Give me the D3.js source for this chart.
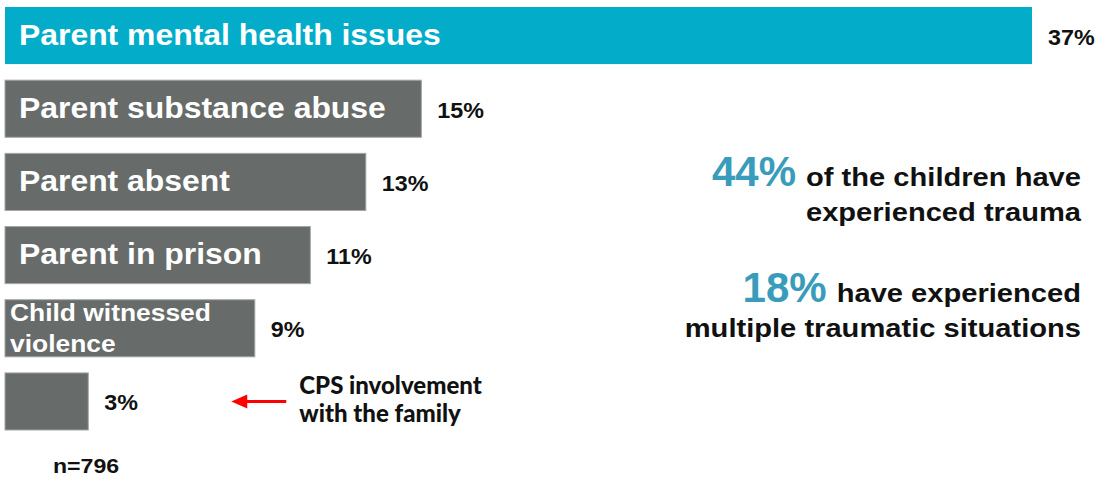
<!DOCTYPE html>
<html>
<head>
<meta charset="utf-8">
<script src="https://cdn.jsdelivr.net/npm/d3@7"></script>
<style>
  html, body { margin: 0; padding: 0; background: #ffffff; }
  svg { display: block; }
  text { font-family: "Liberation Sans", Arial, sans-serif; font-weight: bold; }
</style>
</head>
<body>
<svg id="chart" width="1100" height="477"></svg>
<script>
// Reasons reported, share of children (%)
const categories = [
  "Parent mental health issues",
  "Parent substance abuse",
  "Parent absent",
  "Parent in prison",
  "Child witnessed violence",
  "CPS involvement with the family"
];
const values = [37, 15, 13, 11, 9, 3];
// Text printed inside each bar, one entry per line (the last bar is labelled by a callout)
const barLabelLines = [
  ["Parent mental health issues"],
  ["Parent substance abuse"],
  ["Parent absent"],
  ["Parent in prison"],
  ["Child witnessed", "violence"],
  []
];
const calloutLines = ["CPS involvement", "with the family"];
const sampleLabel = "n=796";
const summary = [
  { pct: "44%", lines: ["of the children have", "experienced trauma"] },
  { pct: "18%", lines: ["have experienced", "multiple traumatic situations"] }
];

const TEAL_BAR = "#03adc9";
const GRAY_BAR = "#676b69";
const TEAL_TEXT = "#3a9cbb";
const STRETCH = 1.1;

const svg = d3.select("#chart");

const x = d3.scaleLinear().domain([0, 37]).range([5, 1032]);
const y = d3.scaleBand().domain(categories).range([7, 430]).paddingInner(0.22).paddingOuter(0);

// horizontally widened text, anchored at (px, py)
function wideText(parent, px, py, str, size, anchor, sx) {
  const g = parent.append("g").attr("transform", `translate(${px},${py}) scale(${sx},1)`);
  const t = g.append("text")
    .attr("text-anchor", anchor || "start")
    .style("font-size", size + "px")
    .text(str);
  return t;
}

const rows = categories.map((c, i) => ({ cat: c, value: values[i], lines: barLabelLines[i], i }));

// bars
svg.append("g").selectAll("rect")
  .data(rows)
  .join("rect")
  .attr("x", x(0))
  .attr("y", d => y(d.cat))
  .attr("width", d => x(d.value) - x(0))
  .attr("height", y.bandwidth())
  .attr("fill", d => d.i === 0 ? TEAL_BAR : GRAY_BAR)
  .attr("stroke", d => d.i === 0 ? "none" : "#a3a6a4")
  .attr("stroke-width", 1);

// labels inside bars
const labelLayer = svg.append("g").attr("fill", "#ffffff");
rows.forEach(d => {
  const cy = y(d.cat) + y.bandwidth() / 2;
  if (d.lines.length === 1) {
    wideText(labelLayer, x(0) + 14, cy + 9, d.lines[0], 29, "start", STRETCH).attr("fill", "#ffffff");
  } else if (d.lines.length === 2) {
    wideText(labelLayer, x(0) + 5, cy - 7, d.lines[0], 24, "start", STRETCH).attr("fill", "#ffffff");
    wideText(labelLayer, x(0) + 5, cy + 24, d.lines[1], 24, "start", STRETCH).attr("fill", "#ffffff");
  }
});

// value labels
const valueLayer = svg.append("g");
rows.forEach(d => {
  const cy = y(d.cat) + y.bandwidth() / 2;
  wideText(valueLayer, x(d.value) + 16, cy + 9, d.value + "%", 22, "start", 1.06).attr("fill", "#111111");
});

// callout for the last bar
const last = rows[rows.length - 1];
const lastCy = y(last.cat) + y.bandwidth() / 2;
const arrowY = lastCy;
const arrowTip = x(last.value) + 143;
const arrowTail = arrowTip + 55;
svg.append("line")
  .attr("x1", arrowTail).attr("y1", arrowY)
  .attr("x2", arrowTip + 12).attr("y2", arrowY)
  .attr("stroke", "#ff0000").attr("stroke-width", 3);
svg.append("path")
  .attr("d", d3.line()([[arrowTip, arrowY], [arrowTip + 16, arrowY - 7], [arrowTip + 16, arrowY + 7]]) + "Z")
  .attr("fill", "#ff0000");

const callout = svg.append("text")
  .attr("x", arrowTail + 13)
  .attr("y", lastCy - 7)
  .style("font-family", "Lato, 'Open Sans', sans-serif")
  .style("font-weight", "900")
  .style("font-size", "24px")
  .attr("fill", "#111111");
callout.selectAll("tspan")
  .data(calloutLines)
  .join("tspan")
  .attr("x", arrowTail + 13)
  .attr("dy", (d, i) => i === 0 ? 0 : 28)
  .text(d => d);

// sample size
wideText(svg, 53, 473, sampleLabel, 21, "start", STRETCH).attr("fill", "#111111");

// summary statements, right aligned
const rightEdge = 1081;
const summaryTop = [186, 302];
summary.forEach((s, k) => {
  const base = summaryTop[k];
  const first = wideText(svg, rightEdge, base, s.lines[0], 26, "end", 1.12).attr("fill", "#111111");
  const w = first.node().getComputedTextLength() * 1.12;
  svg.append("text")
    .attr("x", rightEdge - w - 10)
    .attr("y", base)
    .attr("text-anchor", "end")
    .style("font-size", "42px")
    .attr("fill", TEAL_TEXT)
    .text(s.pct);
  wideText(svg, rightEdge, base + 35, s.lines[1], 26, "end", 1.12).attr("fill", "#111111");
});
</script>
</body>
</html>
